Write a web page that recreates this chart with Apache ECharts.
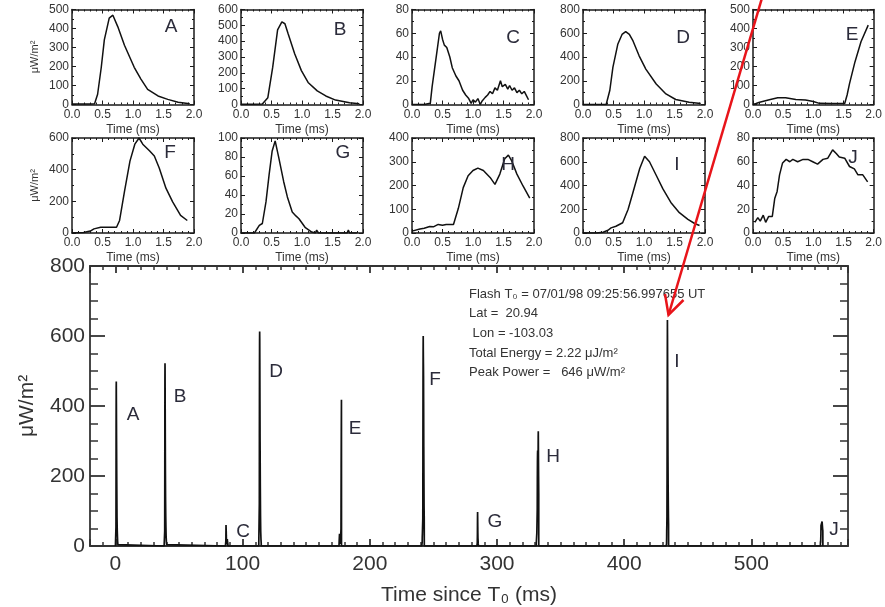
<!DOCTYPE html>
<html><head><meta charset="utf-8">
<script src="https://cdn.jsdelivr.net/npm/echarts@6/dist/echarts.min.js"></script>
<style>html,body{margin:0;padding:0;background:#fff}#c{width:885px;height:607px}</style>
</head><body><div id="c"></div><script>
// ---- data ----
const flashLetters = ['A','B','C','D','E','F','G','H','I','J'];
const flashStartMs = [0, 38.3, 86.5, 112.7, 175.8, 240.9, 284.2, 330.9, 433, 554.3];
const subYMax  = [500, 600, 80, 800, 500, 600, 100, 400, 800, 80];
const subYStep = [100, 100, 20, 200, 100, 200, 20, 100, 200, 20];
const subTimeTicks = [0, 0.5, 1.0, 1.5, 2.0];
const mainXTicks = [0, 100, 200, 300, 400, 500];
const mainYTicks = [0, 200, 400, 600, 800];

const curveA = [[0,3],[0.1,3],[0.2,3],[0.3,3],[0.37,4],[0.42,54],[0.48,196],[0.53,340],[0.61,455],[0.67,470],[0.75,410],[0.86,312],[1.02,196],[1.13,134],[1.24,80],[1.41,45],[1.57,27],[1.74,12],[1.93,4]];
const curveB = [[0,2],[0.2,2],[0.35,3],[0.44,43],[0.52,236],[0.6,471],[0.67,522],[0.72,510],[0.77,450],[0.88,321],[0.99,214],[1.1,139],[1.25,86],[1.39,54],[1.55,28],[1.78,11],[1.94,4]];
const curveC = [[0,0],[0.2,0],[0.3,1],[0.33,15],[0.37,30],[0.41,45],[0.45,60],[0.47,62],[0.5,55],[0.53,50],[0.57,48],[0.62,40],[0.66,31],[0.72,24],[0.77,20],[0.83,12],[0.88,8],[0.93,5],[0.97,1],[1.0,4],[1.04,2],[1.08,5],[1.12,0],[1.15,3],[1.2,6],[1.24,8],[1.28,11],[1.32,9],[1.36,14],[1.4,12],[1.45,20],[1.48,15],[1.53,17],[1.57,13],[1.6,16],[1.64,12],[1.68,14],[1.72,10],[1.76,12],[1.8,9],[1.84,11],[1.88,7],[1.91,4]];
const curveD = [[0,0],[0.2,0],[0.38,0],[0.44,120],[0.49,312],[0.57,507],[0.64,590],[0.7,613],[0.76,590],[0.82,535],[0.92,410],[1.03,298],[1.2,173],[1.36,89],[1.52,42],[1.74,19],[1.93,8]];
const curveE = [[0,0],[0.05,5],[0.11,12],[0.27,25],[0.41,35],[0.54,35],[0.71,26],[0.87,24],[1.0,16],[1.1,6],[1.3,5],[1.52,5],[1.56,50],[1.6,110],[1.69,224],[1.79,330],[1.91,418]];
const curveF = [[0,0],[0.19,3],[0.3,12],[0.36,26],[0.47,36],[0.6,36],[0.73,36],[0.78,79],[0.86,261],[0.95,454],[1.03,561],[1.1,600],[1.16,561],[1.27,519],[1.35,486],[1.43,411],[1.54,283],[1.65,197],[1.78,111],[1.89,79]];
const curveG = [[0,0],[0.22,0],[0.3,8],[0.35,10],[0.41,33],[0.46,61],[0.51,86],[0.56,97],[0.62,79],[0.7,54],[0.76,38],[0.84,22],[0.9,18],[0.95,15],[1.05,6],[1.16,1],[1.22,0],[1.24,3],[1.27,0],[1.74,0],[1.76,3],[1.78,0],[1.9,0]];
const curveH = [[0,8],[0.02,10],[0.13,17],[0.2,20],[0.29,27],[0.35,26],[0.43,36],[0.5,33],[0.56,36],[0.68,36],[0.76,104],[0.84,191],[0.92,241],[1.0,263],[1.08,273],[1.17,263],[1.28,234],[1.36,205],[1.44,248],[1.52,313],[1.58,328],[1.63,306],[1.72,248],[1.82,198],[1.93,147]];
const curveI = [[0,0],[0.22,0],[0.33,6],[0.41,23],[0.46,43],[0.54,57],[0.65,86],[0.74,200],[0.82,343],[0.93,543],[1.01,646],[1.09,600],[1.2,486],[1.31,371],[1.44,257],[1.58,171],[1.72,114],[1.83,80],[1.91,63]];
const curveJ = [[0.03,9],[0.08,13],[0.12,10],[0.17,15],[0.21,9],[0.26,14],[0.32,14],[0.36,29],[0.4,35],[0.44,49],[0.49,59],[0.55,62],[0.61,60],[0.66,62],[0.74,60],[0.83,62],[0.91,62],[0.99,60],[1.07,58],[1.16,62],[1.24,63],[1.32,70],[1.38,67],[1.43,64],[1.52,63],[1.6,56],[1.68,54],[1.74,49],[1.82,49],[1.9,43]];
const curves = [curveA, curveB, curveC, curveD, curveE, curveF, curveG, curveH, curveI, curveJ];

// ---- layout ----
const FONT = 'Liberation Sans';
const subLefts = [72, 241, 412, 583, 753];
const subTops = [9.5, 138];
const subW = 122, subH = 95;
const INK = '#1a1a1a', TXT = '#333';

const grids = [], xAxes = [], yAxes = [], series = [];
for (let i = 0; i < 10; i++) {
  const row = i < 5 ? 0 : 1, col = i % 5;
  grids.push({left: subLefts[col], top: subTops[row], width: subW, height: subH});
  const common = {
    gridIndex: i, type: 'value', splitLine: {show: false},
    axisLine: {onZero: false, lineStyle: {color: INK, width: 1.5}},
    axisTick: {inside: true, length: 4, lineStyle: {color: INK, width: 1}},
    minorTick: {show: true, splitNumber: 5, length: 2, lineStyle: {color: INK, width: 1}}
  };
  xAxes.push(Object.assign({}, common, {
    position: 'bottom', min: subTimeTicks[0], max: subTimeTicks[subTimeTicks.length-1], interval: 0.5,
    axisLabel: {color: TXT, fontSize: 12, fontFamily: FONT, margin: 4, formatter: v => v.toFixed(1)},
    name: 'Time (ms)', nameLocation: 'middle', nameGap: 19,
    nameTextStyle: {color: TXT, fontSize: 12, fontFamily: FONT}
  }));
  xAxes.push(Object.assign({}, common, {
    position: 'top', min: 0, max: 2, interval: 0.5, axisLabel: {show: false}
  }));
  const yc = Object.assign({}, common, {minorTick: {show: true, splitNumber: 2, length: 2, lineStyle: {color: INK, width: 1}}});
  const yl = Object.assign({}, yc, {
    position: 'left', min: 0, max: subYMax[i], interval: subYStep[i],
    axisLabel: {color: TXT, fontSize: 12, fontFamily: FONT, margin: 3}
  });
  if (col === 0) {
    yl.name = 'μW/m²'; yl.nameLocation = 'middle'; yl.nameGap = 32;
    yl.nameTextStyle = {color: TXT, fontSize: 11, fontFamily: FONT};
  }
  yAxes.push(yl);
  yAxes.push(Object.assign({}, yc, {position: 'right', min: 0, max: subYMax[i], interval: subYStep[i], axisLabel: {show: false}}));
  series.push({
    type: 'line', xAxisIndex: 2*i, yAxisIndex: 2*i, data: curves[i],
    showSymbol: false, symbol: 'none', animation: false,
    lineStyle: {color: '#111', width: 1.5}
  });
}

// main plot
grids.push({left: 90, top: 266, width: 758, height: 290});
const mainLine = {color: '#333', width: 1.8};
const mx = {
  gridIndex: 10, type: 'value', min: -20, max: 576, splitLine: {show: false},
  axisLine: {onZero: false, lineStyle: mainLine},
  axisTick: {inside: true, length: 7, lineStyle: mainLine},
  minorTick: {show: true, splitNumber: 10, length: 4, lineStyle: {color: '#333', width: 1.5}}
};
xAxes.push(Object.assign({}, mx, {
  position: 'bottom',
  axisLabel: {color: TXT, fontSize: 21, fontFamily: FONT, margin: 8,
    formatter: v => (mainXTicks.indexOf(v) >= 0 ? String(v) : '')},
  name: 'Time since T₀ (ms)', nameLocation: 'middle', nameGap: 39,
  nameTextStyle: {color: TXT, fontSize: 21, fontFamily: FONT}
}));
xAxes.push(Object.assign({}, mx, {position: 'top', axisLabel: {show: false}}));
const my = {
  gridIndex: 10, type: 'value', min: mainYTicks[0], max: mainYTicks[mainYTicks.length-1], interval: 200,
  splitLine: {show: false}, axisLine: {onZero: false, lineStyle: mainLine},
  axisTick: {inside: true, length: 15, lineStyle: mainLine},
  minorTick: {show: true, splitNumber: 4, length: 8, lineStyle: {color: '#333', width: 1.5}}
};
yAxes.push(Object.assign({}, my, {
  position: 'left',
  axisLabel: {color: TXT, fontSize: 21, fontFamily: FONT, margin: 5},
  name: 'μW/m²', nameLocation: 'middle', nameGap: 52,
  nameTextStyle: {color: TXT, fontSize: 21, fontFamily: FONT}
}));
yAxes.push(Object.assign({}, my, {position: 'right', axisLabel: {show: false}}));

const mainData = [];
for (let i = 0; i < 10; i++) {
  const s = flashStartMs[i];
  mainData.push([s - 0.01, 0]);
  curves[i].forEach(p => mainData.push([s + p[0], p[1]]));
  mainData.push([s + 1.95, 0]);
}
series.push({
  type: 'line', xAxisIndex: 20, yAxisIndex: 20, data: mainData,
  showSymbol: false, symbol: 'none', animation: false,
  lineStyle: {color: '#111', width: 1.7}
});

// ---- annotations ----
const subLetterPos = [[171,27],[340,30],[513,38],[683,38],[852,35],[170,153],[343,153],[508,165],[677,165],[853,158]];
const mainLetterPos = [[133,415],[180,397],[243,532],[276,372],[355,429],[435,380],[495,522],[553,457],[677,362],[834,530]];
const infoLines = ['Flash T₀ = 07/01/98 09:25:56.997655 UT', 'Lat =  20.94', ' Lon = -103.03', 'Total Energy = 2.22 μJ/m²', 'Peak Power =   646 μW/m²'];
const infoY = [294, 313, 333, 353, 372];

const graphic = [];
flashLetters.forEach((L, i) => {
  graphic.push({type: 'text', x: subLetterPos[i][0], y: subLetterPos[i][1], z: 50,
    style: {text: L, fontSize: 19, fontFamily: FONT, fill: '#2b2b3a', align: 'center', verticalAlign: 'middle'}});
  graphic.push({type: 'text', x: mainLetterPos[i][0], y: mainLetterPos[i][1], z: 50,
    style: {text: L, fontSize: 19, fontFamily: FONT, fill: '#2b2b3a', align: 'center', verticalAlign: 'middle'}});
});
infoLines.forEach((t, i) => {
  graphic.push({type: 'text', x: 469, y: infoY[i], z: 50,
    style: {text: t, fontSize: 13, fontFamily: FONT, fill: '#333', align: 'left', verticalAlign: 'middle'}});
});
graphic.push({type: 'polyline', z: 100, shape: {points: [[762,-2],[668.5,315]]},
  style: {stroke: '#e8141a', lineWidth: 2.5, fill: null}});
graphic.push({type: 'polyline', z: 100, shape: {points: [[665,294],[668.5,315],[683.5,300]]},
  style: {stroke: '#e8141a', lineWidth: 2.5, fill: null}});

const chart = echarts.init(document.getElementById('c'), null, {renderer: 'canvas'});
chart.setOption({
  animation: false, backgroundColor: '#fff',
  grid: grids, xAxis: xAxes, yAxis: yAxes, series: series, graphic: graphic
});
</script></body></html>
